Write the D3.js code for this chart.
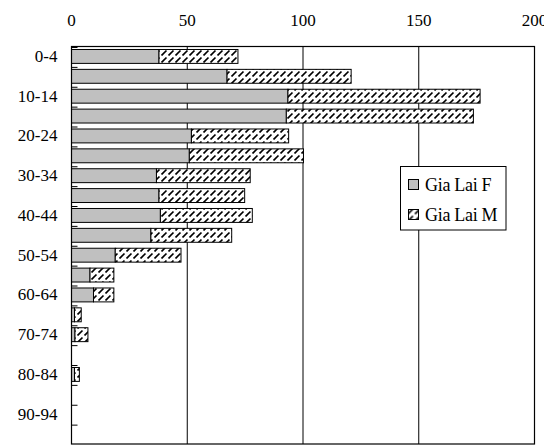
<!DOCTYPE html>
<html>
<head>
<meta charset="utf-8">
<script src="https://cdn.jsdelivr.net/npm/d3@7"></script>
<style>
  html, body { margin: 0; padding: 0; background: #fff; }
  svg text { font-family: "Liberation Serif", "DejaVu Serif", serif; }
</style>
</head>
<body>
<svg id="chart" width="544" height="445"></svg>
<script>
// Population by five-year age group, Gia Lai province
const ageGroups = ["0-4","5-9","10-14","15-19","20-24","25-29","30-34","35-39","40-44","45-49",
                   "50-54","55-59","60-64","65-69","70-74","75-79","80-84","85-89","90-94","95+"];
const femaleValues = [37.8, 67.2, 93.5, 92.8, 51.8, 50.9, 36.7, 37.8, 38.4, 34.3,
                      18.9, 8.0, 9.5, 1.3, 1.5, 0, 1.3, 0, 0, 0];
const maleValues   = [34.1, 53.6, 83.0, 80.8, 42.0, 49.3, 40.5, 37.0, 39.7, 34.9,
                      28.4, 10.3, 8.8, 2.9, 5.6, 0, 2.1, 0, 0, 0];
const xTicks = [0, 50, 100, 150, 200];
const seriesNames = ["Gia Lai F", "Gia Lai M"];

const FONT = "Liberation Serif, DejaVu Serif, serif";
const svg = d3.select("#chart");
const plot = { left: 71.5, right: 534.5, top: 46.5, bottom: 444 };

const x = d3.scaleLinear().domain([0, 200]).range([plot.left, plot.right]);
const y = d3.scaleBand().domain(ageGroups).range([plot.top, plot.bottom])
  .paddingInner(0.3).paddingOuter(0.15);

// diagonal dashed hatch for the male series
const defs = svg.append("defs");
const pat = defs.append("pattern").attr("id", "hatch")
  .attr("patternUnits", "userSpaceOnUse").attr("width", 7).attr("height", 7);
pat.append("rect").attr("width", 7).attr("height", 7).attr("fill", "#fff");
pat.append("path").attr("d", "M0.5,6.5 L5.5,1.5").attr("stroke", "#000")
  .attr("stroke-width", 1.7).attr("fill", "none");

// gridlines
svg.append("g").selectAll("line").data(xTicks.slice(1, -1)).join("line")
  .attr("x1", d => x(d)).attr("x2", d => x(d))
  .attr("y1", plot.top).attr("y2", plot.bottom)
  .attr("stroke", "#000").attr("stroke-width", 1);

// top axis labels
svg.append("g").selectAll("text").data(xTicks).join("text")
  .attr("x", d => x(d)).attr("y", 25.5)
  .attr("text-anchor", "middle").attr("font-family", FONT).attr("font-size", 17).attr("fill", "#000")
  .text(d => d);

const rows = ageGroups.map((g, i) => ({ g, f: femaleValues[i], m: maleValues[i] }));

// female segments
svg.append("g").selectAll("rect").data(rows.filter(d => d.f > 0)).join("rect")
  .attr("x", x(0)).attr("y", d => y(d.g))
  .attr("width", d => x(d.f) - x(0)).attr("height", y.bandwidth())
  .attr("fill", "#c0c0c0").attr("stroke", "#000").attr("stroke-width", 1);

// male segments, stacked after female
svg.append("g").selectAll("rect").data(rows.filter(d => d.m > 0)).join("rect")
  .attr("x", d => x(d.f)).attr("y", d => y(d.g))
  .attr("width", d => x(d.f + d.m) - x(d.f)).attr("height", y.bandwidth())
  .attr("fill", "url(#hatch)").attr("stroke", "#000").attr("stroke-width", 1);

// plot frame
svg.append("rect")
  .attr("x", plot.left).attr("y", plot.top)
  .attr("width", plot.right - plot.left).attr("height", plot.bottom - plot.top)
  .attr("fill", "none").attr("stroke", "#000").attr("stroke-width", 1.2);

// category boundary ticks, pointing into the plot
const step = y.step();
const boundaries = ageGroups.map(g => y(g) - step * y.paddingInner() / 2);
svg.append("g").selectAll("line").data(boundaries).join("line")
  .attr("x1", plot.left).attr("x2", plot.left + 6)
  .attr("y1", d => d + 1).attr("y2", d => d + 1)
  .attr("stroke", "#000").attr("stroke-width", 1);

// category labels on every other group
svg.append("g").selectAll("text").data(ageGroups.filter((g, i) => i % 2 === 0 && i < 19)).join("text")
  .attr("x", 57.5).attr("y", d => y(d) + y.bandwidth() / 2 + 5.5)
  .attr("text-anchor", "end").attr("font-family", FONT).attr("font-size", 17).attr("fill", "#000")
  .text(d => d);

// legend
const lg = svg.append("g").attr("transform", "translate(400.5,166.5)");
lg.append("rect").attr("width", 105.5).attr("height", 63.5)
  .attr("fill", "#fff").attr("stroke", "#000").attr("stroke-width", 1);
const fills = ["#c0c0c0", "url(#hatch)"];
seriesNames.forEach((name, i) => {
  const row = lg.append("g").attr("transform", `translate(0,${18 + i * 30})`);
  row.append("rect").attr("x", 8).attr("y", -5).attr("width", 10).attr("height", 10)
    .attr("fill", fills[i]).attr("stroke", "#000").attr("stroke-width", 1);
  row.append("text").attr("x", 24.5).attr("y", 6.5).attr("font-family", FONT).attr("font-size", 18)
    .attr("letter-spacing", -0.3).attr("fill", "#000").text(name);
});
</script>
</body>
</html>
